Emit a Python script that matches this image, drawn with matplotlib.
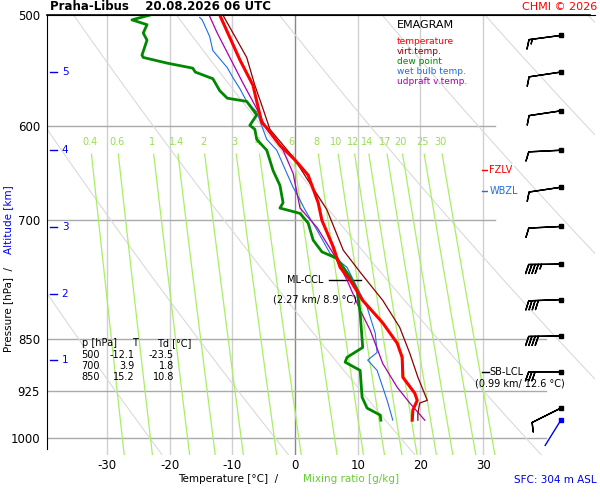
import numpy as np
import matplotlib
matplotlib.use("Agg")
import matplotlib.pyplot as plt

# ---- data ----
t_p = [500, 538, 561, 576, 596, 603, 619, 634, 650, 680, 700, 731, 756, 772, 798, 828, 856, 876, 905, 929, 940, 955, 971]
t_T = [-12.0, -8.8, -6.7, -6.1, -5.3, -4.3, -2.4, 0.0, 2.1, 3.7, 4.3, 6.1, 7.2, 8.8, 10.8, 14.0, 16.3, 17.1, 17.2, 19.1, 19.5, 18.8, 18.7]

tv_p = [500, 536, 561, 583, 603, 631, 688, 735, 762, 798, 834, 870, 905, 940, 944, 960, 971]
tv_T = [-11.5, -7.7, -6.4, -5.1, -4.0, -0.3, 5.1, 7.7, 10.4, 14.0, 16.7, 18.3, 19.6, 21.1, 19.9, 19.6, 19.6]

td_p = [500, 504, 508, 515, 521, 534, 536, 541, 545.5, 549, 555, 566, 573, 576, 589, 599, 603, 613, 624, 645, 661, 680, 686,
        692, 703, 723, 737, 745, 768, 785, 815, 862, 876, 883, 895, 935, 952, 963, 971]
td_T = [-23.1, -26.0, -23.6, -24.2, -23.6, -24.4, -24.2, -20.4, -16.3, -15.9, -13.1, -12.0, -10.8, -7.7, -6.1, -7.2, -6.4, -6.1,
        -4.5, -3.5, -2.4, -1.9, -2.4, 0.8, 2.1, 2.9, 4.3, 6.7, 8.8, 9.9, 10.4, 10.8, 8.3, 8.0, 10.4, 10.7, 11.5, 13.6, 13.7]

tw_p = [502, 504, 518, 530, 545, 554, 564, 576, 586, 603, 613, 624, 648, 663, 677, 688, 711, 739, 756, 781, 807, 842, 869, 880, 895, 920, 940, 971]
tw_T = [-15.2, -14.8, -13.6, -13.1, -10.8, -9.9, -8.8, -7.7, -6.1, -5.1, -4.5, -2.9, -1.3, -0.3, 0.8, 1.6, 3.5, 5.6, 8.3, 9.9, 11.5, 12.8, 13.1, 11.6, 13.1, 14.0, 14.7, 15.6]

tu_p = [500, 515, 536, 559, 583, 603, 624, 648, 686, 708, 739, 772, 811, 838, 885, 920, 944, 971]
tu_T = [-13.7, -12.4, -10.4, -8.3, -6.1, -4.5, -1.9, -0.3, 0.8, 3.5, 6.1, 8.3, 10.4, 12.0, 14.0, 16.3, 18.3, 20.7]

wind_p = [517, 549, 585, 624, 663, 707, 752, 797, 846, 897, 952]
wind_u = [15, 10, 10, 10, 10, 10, 45, 40, 40, 30, 8]
wind_v = [2, 1.5, 1.5, 0.5, 1.5, 0.5, 0.5, 1.5, 0.5, 0, 4]

mix_ratios = [0.4, 0.6, 1, 1.4, 2, 3, 4, 6, 8, 10, 12, 14, 17, 20, 25, 30]
alt_km = [5, 4, 3, 2, 1]
alt_p = [549, 624, 708, 790, 880]
p_ticks = [500, 600, 700, 850, 925, 1000]
t_ticks = [-30, -20, -10, 0, 10, 20, 30]

XMIN, XMAX = -39.55, 47.85
PTOP, PBOT = 500, 1028

fig = plt.figure(figsize=(6, 5), dpi=100)
ax = fig.add_axes([47/600, 1-455/500, 548/600, 440/500])
ax.set_yscale('log')
ax.set_xlim(XMIN, XMAX)
ax.set_ylim(PBOT, PTOP)
ax.minorticks_off()

# grid
for t in t_ticks:
    ax.plot([t, t], [PTOP, PBOT], color='#888888' if t == 0 else '#d0d0d0', lw=1, zorder=1)
for p in p_ticks[1:]:
    xe = 31.9 if p in (600, 700) else 40
    ax.plot([XMIN, xe], [p, p], color='#aaaaaa', lw=1, zorder=1)

# dry adiabats
pp = np.linspace(PTOP, PBOT, 100)
for th in range(250, 430, 20):
    T = th * (pp / 1000.0) ** 0.286 - 273.15
    ax.plot(T, pp, color='#dadada', lw=0.8, zorder=1)

# mixing ratio lines
pm = np.linspace(628, PBOT, 50)
for w in mix_ratios:
    e = w * pm / (622 + w)
    l = np.log(e / 6.112)
    T = 243.5 * l / (17.67 - l)
    ax.plot(T, pm, color='#aaee66', lw=0.9, zorder=1)
    e0 = w * 616 / (622 + w)
    l0 = np.log(e0 / 6.112)
    ax.text(243.5 * l0 / (17.67 - l0), 616, f"{w:g}", color='#99dd55', fontsize=7, ha='center', va='center')

# profiles
ax.plot(tw_T, tw_p, color='#1e6fe0', lw=0.8, zorder=3)
ax.plot(tu_T, tu_p, color='#aa00aa', lw=0.9, zorder=3)
ax.plot(tv_T, tv_p, color='#8b0000', lw=0.9, zorder=3)
ax.plot(td_T, td_p, color='#008800', lw=2, zorder=4)
ax.plot(t_T, t_p, color='#ff0000', lw=2.2, zorder=5)

# wind barbs
bx = 42.4
ax.barbs([bx] * len(wind_p), wind_p, wind_u, wind_v, length=6.8, lw=1, color='k', zorder=6,
         clip_on=False, flip_barb=True, sizes=dict(spacing=0.1, height=0.28, width=0.2))
ax.plot([bx] * len(wind_p), wind_p, 's', ms=2.5, color='k', zorder=6)
ax.plot([bx, bx - 2.5], [971, 1012], color='#0000ee', lw=1, zorder=6)
ax.plot([bx], [971], 's', ms=2.5, color='#0000ee', zorder=6)

# spines / ticks
for s in ['right', 'bottom']:
    ax.spines[s].set_visible(False)
ax.spines['left'].set_bounds(PTOP, PBOT - 10)
ax.set_yticks(p_ticks)
ax.set_yticklabels([str(p) for p in p_ticks], fontsize=8.5)
ax.set_xticks(t_ticks)
ax.set_xticklabels([str(t) for t in t_ticks], fontsize=8.5)
ax.tick_params(length=0, pad=3)
ax.tick_params(axis='y', pad=5)

# altitude ticks
for k, p in zip(alt_km, alt_p):
    ax.plot([-39.1, -38.0], [p, p], color='#0000ee', lw=1)
    ax.text(-37.2, p, str(k), color='#0000ee', fontsize=7.5, va='center')

# titles
fig.text(50/600, 1-7/500, "Praha-Libus    20.08.2026 06 UTC", fontsize=8.5, fontweight='bold', va='center')
fig.text(597/600, 1-7/500, "CHMI © 2026", fontsize=8, color='red', va='center', ha='right')
fig.text(597/600, 1-480/500, "SFC: 304 m ASL", fontsize=7.5, color='#0000ee', va='center', ha='right')
fig.text(228/600, 1-479/500, "Temperature [°C]  /", fontsize=7.5, va='center', ha='center')
fig.text(303/600, 1-479/500, "Mixing ratio [g/kg]", fontsize=7.5, va='center', ha='left', color='#66cc33')
fig.text(8/600, 1-310/500, "Pressure [hPa]  /", fontsize=7.5, rotation=90, va='center', ha='center')
fig.text(8/600, 1-220/500, "Altitude [km]", fontsize=7.5, rotation=90, va='center', ha='center', color='#0000ee')

# legend
lx = 397/600
fig.text(lx, 1-25/500, "EMAGRAM", fontsize=8, va='center')
for i, (lab, c) in enumerate([("temperature", 'red'), ("virt.temp.", '#8b0000'), ("dew point", '#008800'),
                              ("wet bulb temp.", '#1e6fe0'), ("udpraft v.temp.", '#aa00aa')]):
    fig.text(lx, 1-(42+i*10)/500, lab, fontsize=6.5, color=c, va='center')

# table
rows = [("p [hPa]", "T", "Td [°C]"), ("500", "-12.1", "-23.5"), ("700", "3.9", "1.8"), ("850", "15.2", "10.8")]
for i, r in enumerate(rows):
    y = 1 - (343 + i * 11.5) / 500
    fig.text(100/600, y, r[0], fontsize=7, va='center', ha='right' if i else 'center')
    fig.text(135/600, y, r[1], fontsize=7, va='center', ha='right' if i else 'center')
    fig.text(174/600, y, r[2], fontsize=7, va='center', ha='right' if i else 'center')

# annotations
ax.plot([5.4, 10.6], [772, 772], color='k', lw=1)
ax.text(4.5, 772, "ML-CCL", fontsize=7, ha='right', va='center')
ax.text(3.2, 797, "(2.27 km/ 8.9 °C)", fontsize=7, ha='center', va='center')
ax.plot([29.8, 30.9], [897, 897], color='k', lw=1)
ax.text(31.0, 897, "SB-LCL", fontsize=7, ha='left', va='center')
ax.text(35.9, 915, "(0.99 km/ 12.6 °C)", fontsize=7, ha='center', va='center')
ax.plot([29.8, 30.9], [645, 645], color='red', lw=1)
ax.text(31.0, 645, "FZLV", fontsize=7, ha='left', va='center', color='red', bbox=dict(fc='white', ec='none', pad=1))
ax.plot([29.8, 30.9], [667, 667], color='#1e6fe0', lw=1)
ax.text(31.0, 667, "WBZL", fontsize=7, ha='left', va='center', color='#1e6fe0', bbox=dict(fc='white', ec='none', pad=1))

fig.add_artist(plt.Line2D([47/600, 590/600], [1-15/500, 1-15/500], color='k', lw=1.2))
fig.savefig("out.png", dpi=100)
